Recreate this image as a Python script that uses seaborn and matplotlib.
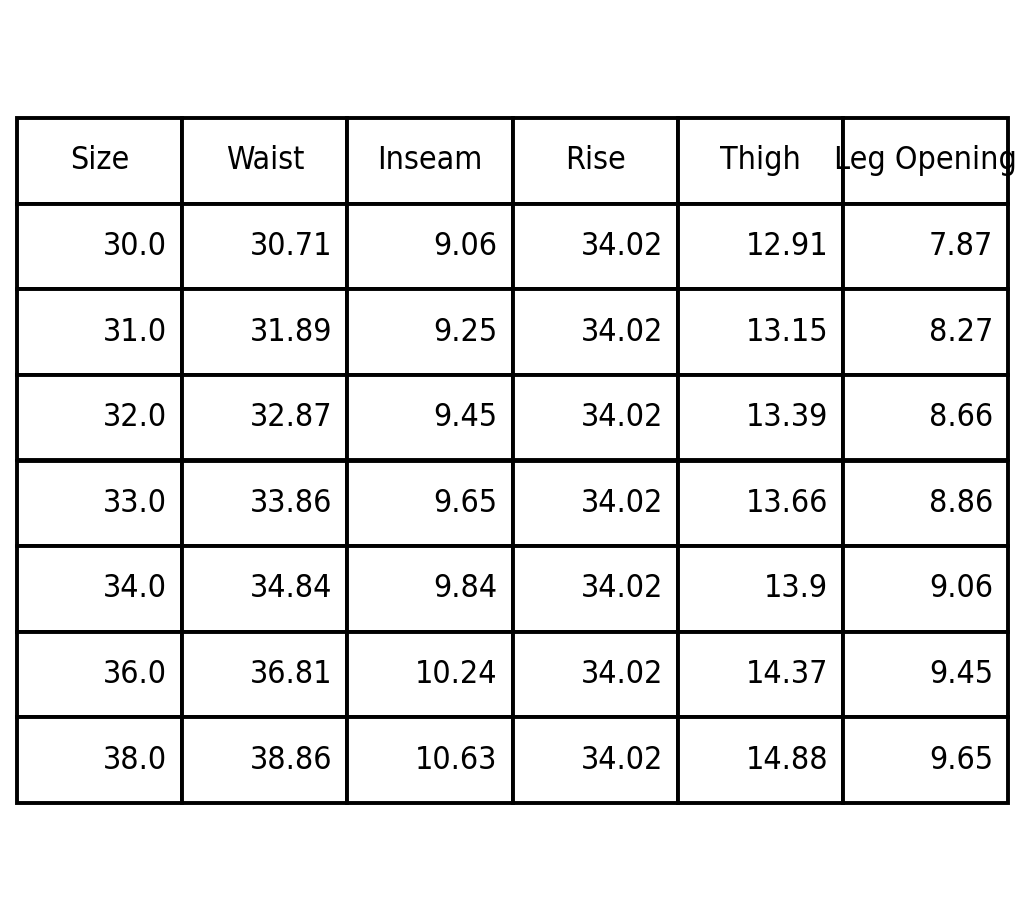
import matplotlib
matplotlib.use("Agg")
import matplotlib.pyplot as plt
import seaborn as sns

sns.set_style("white")
plt.rcParams["font.family"] = ["DejaVu Sans"]

columns = ["Size", "Waist", "Inseam", "Rise", "Thigh", "Leg Opening"]
size = ["30.0", "31.0", "32.0", "33.0", "34.0", "36.0", "38.0"]
waist = ["30.71", "31.89", "32.87", "33.86", "34.84", "36.81", "38.86"]
inseam = ["9.06", "9.25", "9.45", "9.65", "9.84", "10.24", "10.63"]
rise = ["34.02"] * 7
thigh = ["12.91", "13.15", "13.39", "13.66", "13.9", "14.37", "14.88"]
leg_opening = ["7.87", "8.27", "8.66", "8.86", "9.06", "9.45", "9.65"]

rows = list(zip(size, waist, inseam, rise, thigh, leg_opening))

fig = plt.figure(figsize=(10.24, 9.22), dpi=100)
ax = fig.add_axes([0, 0, 1, 1])
ax.axis("off")

tbl = ax.table(cellText=rows, colLabels=columns, cellLoc="right", colLoc="center",
               bbox=[17 / 1024, 1 - 803 / 922, 991 / 1024, 685 / 922])
tbl.auto_set_font_size(False)
for (r, c), cell in tbl.get_celld().items():
    cell.set_linewidth(2.8)
    cell.set_edgecolor("black")
    cell.get_text().set_fontsize(23)
    cell.get_text().set_color("black")
    cell.get_text().set_fontstretch("condensed")
    cell.PAD = 0.09

fig.savefig("out.png", dpi=100)
